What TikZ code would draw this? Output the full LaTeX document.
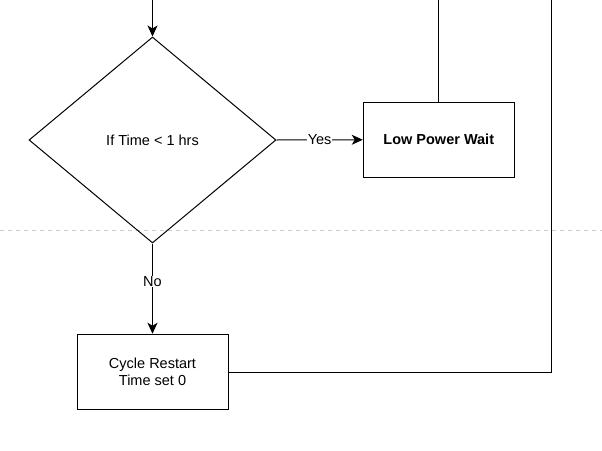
\documentclass[tikz,border=0pt]{standalone}
\usepackage{fontspec}
\setmainfont{Liberation Sans}
\usetikzlibrary{shapes.geometric,arrows.meta}
\begin{document}
\begin{tikzpicture}[x=1pt,y=-1pt,line width=1pt,
  txt/.style={font=\fontsize{14.5pt}{17pt}\selectfont},
  box/.style={draw,rectangle,minimum width=151pt,minimum height=75.5pt,align=center,inner sep=0pt,txt},
  decision/.style={draw,diamond,minimum width=247pt,minimum height=206pt,inner sep=0pt,aspect=1.2,txt},
  arr/.style={-{Stealth[length=11pt,width=10pt,inset=3pt]}},
  lbl/.style={fill=white,inner sep=0.5pt,txt}]
\useasboundingbox (0,0) rectangle (602,450);
\draw[gray!40,line width=1pt,dashed,dash pattern=on 4pt off 4pt] (0,230) -- (602,230);
\node[decision] (d) at (152.5,140) {If Time < 1 hrs};
\node[box,font=\fontsize{14.5pt}{17pt}\selectfont\bfseries] (lpw) at (438.75,139.75) {Low Power Wait};
\node[box] (cr) at (152.5,372) {Cycle Restart\\Time set 0};
\coordinate (top) at (152.5,0);
\coordinate (lpwtop) at (438.75,0);
\coordinate (rc) at (551,372);
\coordinate (rtop) at (551,0);
\draw[arr] (top) -- (d.north);
\draw[arr] (d.east) -- node[lbl,pos=0.5]{Yes} (lpw.west);
\draw[arr] (d.south) -- node[lbl,pos=0.42]{No} (cr.north);
\draw (lpw.north) -- (lpwtop);
\draw (cr.east) -- (rc) -- (rtop);
\end{tikzpicture}
\end{document}
